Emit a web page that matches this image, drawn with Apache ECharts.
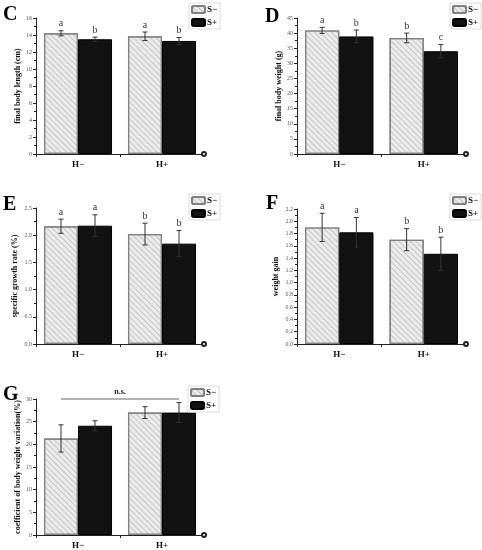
<!DOCTYPE html>
<html><head><meta charset="utf-8">
<script src="https://cdn.jsdelivr.net/npm/echarts@6/dist/echarts.min.js"></script>
<style>html,body{margin:0;padding:0;background:#fff}#c{width:482px;height:550px}</style>
</head><body><div id="c"></div>
<script>
// ---------- data ----------
const categories = ['H−', 'H+'];
const groupNames = ['S−', 'S+'];

// C: final body length (cm)
const lengthSneg = [14.2, 13.85];
const lengthSnegErr = [0.3, 0.5];
const lengthSpos = [13.5, 13.3];
const lengthSposErr = [0.25, 0.4];
const lengthLettersNeg = ['a', 'a'];
const lengthLettersPos = ['b', 'b'];

// D: final body weight (g)
const weightSneg = [40.9, 38.4];
const weightSnegErr = [1.0, 1.6];
const weightSpos = [38.9, 34.0];
const weightSposErr = [2.1, 2.2];
const weightLettersNeg = ['a', 'b'];
const weightLettersPos = ['b', 'c'];

// E: specific growth rate (%)
const sgrSneg = [2.165, 2.02];
const sgrSnegErr = [0.13, 0.2];
const sgrSpos = [2.175, 1.845];
const sgrSposErr = [0.2, 0.24];
const sgrLettersNeg = ['a', 'b'];
const sgrLettersPos = ['a', 'b'];

// F: weight gain
const gainSneg = [1.90, 1.70];
const gainSnegErr = [0.23, 0.18];
const gainSpos = [1.82, 1.47];
const gainSposErr = [0.24, 0.27];
const gainLettersNeg = ['a', 'b'];
const gainLettersPos = ['a', 'b'];

// G: coefficient of body weight variation (%)
const cvSneg = [21.3, 27.0];
const cvSnegErr = [3.0, 1.3];
const cvSpos = [24.1, 27.0];
const cvSposErr = [1.1, 2.2];
const cvLettersNeg = ['', ''];
const cvLettersPos = ['', ''];
const cvBracket = [[0, 1, 30]]; // from H− S− to H+ S+, at y=30
const cvBracketText = 'n.s.';

// ---------- layout ----------
const SERIF = '"Liberation Serif", "DejaVu Serif", serif';
const CAT_GAP = 0.19;
const panels = [
  {tag:'C', name:'final body length (cm)', neg:lengthSneg, negE:lengthSnegErr, pos:lengthSpos, posE:lengthSposErr, ln:lengthLettersNeg, lp:lengthLettersPos,
   min:0, max:16, interval:2, dec:0, nameGap:14, grid:{left:36, top:18, width:168, height:136}, legend:{left:189, top:3}, title:{left:3, top:5}},
  {tag:'D', name:'final body weight (g)', neg:weightSneg, negE:weightSnegErr, pos:weightSpos, posE:weightSposErr, ln:weightLettersNeg, lp:weightLettersPos,
   min:0, max:45, interval:5, dec:0, nameGap:14, grid:{left:297, top:18, width:169, height:136}, legend:{left:450, top:3}, title:{left:265, top:7}},
  {tag:'E', name:'specific growth rate (%)', neg:sgrSneg, negE:sgrSnegErr, pos:sgrSpos, posE:sgrSposErr, ln:sgrLettersNeg, lp:sgrLettersPos,
   min:0, max:2.5, interval:0.5, dec:1, nameGap:17, grid:{left:36, top:208, width:168, height:136}, legend:{left:189, top:194}, title:{left:3, top:195}},
  {tag:'F', name:'weight gain', neg:gainSneg, negE:gainSnegErr, pos:gainSpos, posE:gainSposErr, ln:gainLettersNeg, lp:gainLettersPos,
   min:0, max:2.2, interval:0.2, dec:1, nameGap:17, grid:{left:297, top:209, width:169, height:135}, legend:{left:450, top:194}, title:{left:266, top:194}},
  {tag:'G', name:'coefficient of body weight variation(%)', neg:cvSneg, negE:cvSnegErr, pos:cvSpos, posE:cvSposErr, ln:cvLettersNeg, lp:cvLettersPos,
   min:0, max:30, interval:5, dec:0, nameGap:14, grid:{left:36, top:399, width:168, height:136}, legend:{left:188, top:386}, title:{left:3, top:385}}
];

const grids = [], xAxes = [], yAxes = [], series = [], legends = [], titles = [];

function errRender(vals, errs, letters, g) {
  return function (params, api) {
    const i = params.dataIndex;
    const band = api.size([1, 0])[0];
    const bw = band * (1 - CAT_GAP) / 2;
    const c = api.coord([i, vals[i]]);
    const x = c[0] + (g === 0 ? -bw / 2 : bw / 2);
    const yt = api.coord([i, vals[i] + errs[i]])[1];
    const yb = api.coord([i, vals[i] - errs[i]])[1];
    const cap = 2.5;
    const st = {stroke: '#333', lineWidth: 1};
    const children = [
      {type:'line', shape:{x1:x, y1:yt, x2:x, y2:yb}, style:st},
      {type:'line', shape:{x1:x-cap, y1:yt, x2:x+cap, y2:yt}, style:st},
      {type:'line', shape:{x1:x-cap, y1:yb, x2:x+cap, y2:yb}, style:st}
    ];
    if (letters[i]) children.push({type:'text', x:x, y:yt-2, style:{text:letters[i], fill:'#333', font:'10px ' + SERIF, align:'center', verticalAlign:'bottom'}});
    return {type:'group', children};
  };
}

panels.forEach((p, k) => {
  grids.push(Object.assign({containLabel:false}, p.grid));
  titles.push({text:p.tag, left:p.title.left, top:p.title.top, padding:0, textStyle:{fontFamily:SERIF, fontWeight:'bold', fontSize:20, color:'#000'}});
  xAxes.push({
    type:'category', gridIndex:k, data:categories,
    axisLine:{lineStyle:{color:'#222', width:1}, symbol:['none','emptyCircle'], symbolSize:[4,4]},
    axisTick:{show:true, length:3, lineStyle:{color:'#222'}},
    axisLabel:{fontFamily:SERIF, fontWeight:'bold', fontSize:9, color:'#111', margin:6}
  });
  yAxes.push({
    type:'value', gridIndex:k, min:p.min, max:p.max, interval:p.interval,
    name:p.name, nameLocation:'middle', nameGap:p.nameGap, nameRotate:90,
    nameTextStyle:{fontFamily:SERIF, fontWeight:'bold', fontSize:8, color:'#111'},
    axisLine:{show:true, lineStyle:{color:'#222', width:1}},
    axisTick:{show:true, length:3, lineStyle:{color:'#222'}},
    minorTick:{show:true, splitNumber:2, length:2, lineStyle:{color:'#222'}},
    splitLine:{show:false},
    axisLabel:{fontFamily:SERIF, fontSize:6, color:'#555', margin:4, formatter: v => v.toFixed(p.dec)}
  });
  legends.push({
    data:groupNames, orient:'vertical', left:p.legend.left, top:p.legend.top,
    itemWidth:13, itemHeight:7, itemGap:4, padding:[2,3,2,2],
    borderColor:'#ddd', borderWidth:1,
    textStyle:{fontFamily:SERIF, fontWeight:'bold', fontSize:9, color:'#111', padding:[0,0,0,-3]}
  });
  series.push({
    name:groupNames[0], type:'bar', xAxisIndex:k, yAxisIndex:k, data:p.neg,
    barGap:'0%', barCategoryGap:(CAT_GAP*100)+'%',
    itemStyle:{color:'#ebebeb', borderColor:'#808080', borderWidth:1.2,
      decal:{symbol:'rect', symbolSize:1, color:'rgba(140,140,140,0.4)', dashArrayX:[1,0], dashArrayY:[1,2.5], rotation:Math.PI/4}},
    emphasis:{disabled:true}
  });
  series.push({
    name:groupNames[1], type:'bar', xAxisIndex:k, yAxisIndex:k, data:p.pos,
    barGap:'0%', barCategoryGap:(CAT_GAP*100)+'%',
    itemStyle:{color:'#121212', borderColor:'#000', borderWidth:1},
    emphasis:{disabled:true}
  });
  series.push({type:'custom', xAxisIndex:k, yAxisIndex:k, data:p.neg.map((v,i)=>[i,v]), renderItem:errRender(p.neg, p.negE, p.ln, 0), z:5, silent:true});
  series.push({type:'custom', xAxisIndex:k, yAxisIndex:k, data:p.pos.map((v,i)=>[i,v]), renderItem:errRender(p.pos, p.posE, p.lp, 1), z:5, silent:true});
});

// n.s. bracket on panel G
series.push({
  type:'custom', xAxisIndex:4, yAxisIndex:4, data:cvBracket, z:6, silent:true,
  renderItem: function (params, api) {
    const a = api.value(0), b = api.value(1), y = api.value(2);
    const band = api.size([1, 0])[0];
    const bw = band * (1 - CAT_GAP) / 2;
    const p1 = api.coord([a, y]), p2 = api.coord([b, y]);
    const x1 = p1[0] - bw / 2, x2 = p2[0] + bw / 2;
    return {type:'group', children:[
      {type:'line', shape:{x1:x1, y1:p1[1], x2:x2, y2:p2[1]}, style:{stroke:'#666', lineWidth:1}},
      {type:'text', x:(x1+x2)/2, y:p1[1]-3, style:{text:cvBracketText, fill:'#222', font:'bold 8px ' + SERIF, align:'center', verticalAlign:'bottom'}}
    ]};
  }
});

const chart = echarts.init(document.getElementById('c'), null, {renderer:'canvas'});
chart.setOption({
  animation:false, backgroundColor:'#fff',
  title:titles, grid:grids, xAxis:xAxes, yAxis:yAxes, legend:legends, series:series
});
</script></body></html>
